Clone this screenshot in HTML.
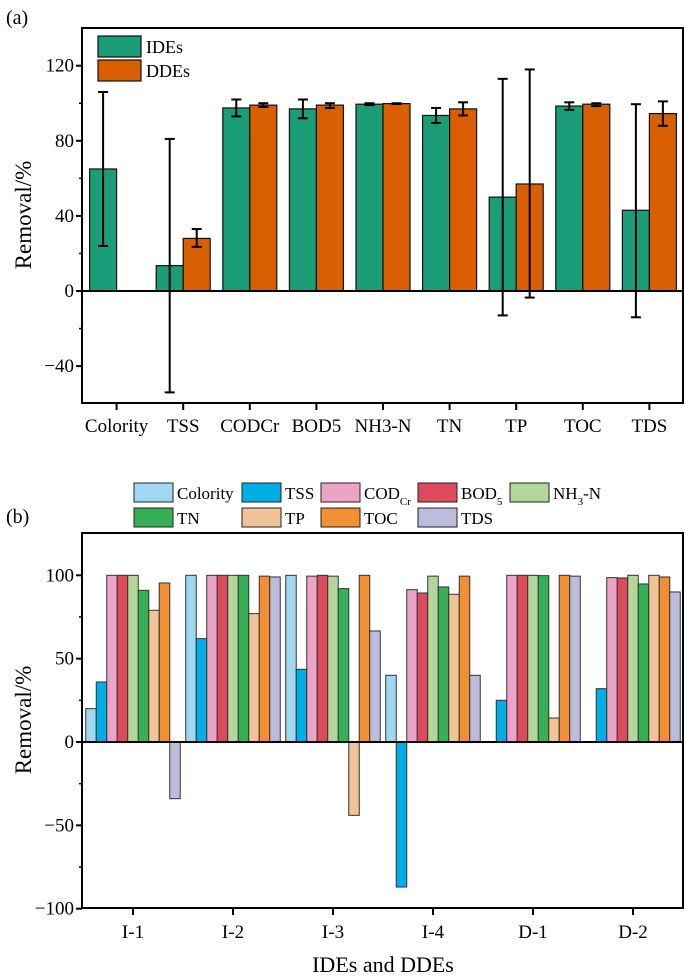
<!DOCTYPE html>
<html><head><meta charset="utf-8"><style>
body{margin:0;background:#fff;width:685px;height:976px;overflow:hidden}
svg{font-family:"Liberation Serif",serif;display:block}
</style></head><body>
<svg id="s" width="685" height="976" viewBox="0 0 685 976">
<text x="6" y="24" font-size="20">(a)</text>
<text x="6" y="523" font-size="20">(b)</text>
<g id="ga"></g>
<g id="gb"></g>
</svg>
<script>
const catsA=["Colority","TSS","CODCr","BOD5","NH3-N","TN","TP","TOC","TDS"];
const ideVals=[65,13.5,97.5,97,99.5,93.5,50,98.5,43];
const ideLo=[24,-54,93,92,99,89.5,-13,96.5,-14];
const ideHi=[106,81,102,102,100,97.5,113,100.5,99.5];
const ddeVals=[null,28,99,99,99.8,97,57,99.5,94.5];
const ddeLo=[null,23.5,98,97.5,99.6,93.5,-3.5,98.5,88];
const ddeHi=[null,33,100,100,100,100.5,118,100,101];
const ticksA=[-40,0,40,80,120];

const groupsB=["I-1","I-2","I-3","I-4","D-1","D-2"];
const seriesB=["Colority","TSS","COD<tspan baseline-shift='sub' font-size='11'>Cr</tspan>","BOD<tspan baseline-shift='sub' font-size='11'>5</tspan>","NH<tspan baseline-shift='sub' font-size='11'>3</tspan>-N","TN","TP","TOC","TDS"];
const colority=[20,100,100,40,0,0];
const tss=[36,62,43.6,-87,25,32];
const codcr=[100,100,99.5,91.4,100,98.6];
const bod5=[100,100,100,89.4,100,98.4];
const nh3n=[100,100,99.5,99.5,100,100];
const tn=[91,100,92,93,99.8,94.8];
const tp=[79,77,-44,88.6,14.4,100];
const toc=[95.4,99.5,100,99.5,100,99];
const tds=[-34,99,66.6,40,99.5,90];
const ticksB=[-100,-50,0,50,100];

const NS="http://www.w3.org/2000/svg";
function mk(p,t,a,txt){const e=document.createElementNS(NS,t);for(const k in a)e.setAttribute(k,a[k]);if(txt!==undefined)e.innerHTML=txt;p.appendChild(e);return e;}

// Chart A
const ga=document.getElementById('ga');
const aL=82,aR=683,aT=28,aB=403;
const yA=v=>291-(v/120)*(291-65.7);
const xA=i=>116.6+i*66.6;
const bw=27;
function errbar(x,lo,hi){
  const g=mk(ga,'g',{});
  
  
  mk(g,'line',{x1:x,x2:x,y1:yA(lo),y2:yA(hi),stroke:'#000','stroke-width':2});
  mk(g,'line',{x1:x-5,x2:x+5,y1:yA(lo),y2:yA(lo),stroke:'#000','stroke-width':2});
  mk(g,'line',{x1:x-5,x2:x+5,y1:yA(hi),y2:yA(hi),stroke:'#000','stroke-width':2});
}
catsA.forEach((c,i)=>{
  const cx=xA(i);
  const v=ideVals[i];
  const r=mk(ga,'rect',{x:cx-bw,y:Math.min(yA(v),yA(0)),width:bw,height:Math.abs(yA(v)-yA(0)),fill:'#1b9e77',stroke:'#111','stroke-width':1.2});
  
  
  if(ddeVals[i]!==null){
    const d=ddeVals[i];
    const r2=mk(ga,'rect',{x:cx,y:Math.min(yA(d),yA(0)),width:bw,height:Math.abs(yA(d)-yA(0)),fill:'#d95f02',stroke:'#111','stroke-width':1.2});
    
    
  }
});
catsA.forEach((c,i)=>{
  const cx=xA(i);
  errbar(cx-bw/2,ideLo[i],ideHi[i]);
  if(ddeVals[i]!==null) errbar(cx+bw/2,ddeLo[i],ddeHi[i]);
  const t=mk(ga,'text',{x:cx,y:432,'font-size':19,'text-anchor':'middle'},c);
  
  
  mk(ga,'line',{x1:cx,x2:cx,y1:aB,y2:aB+7,stroke:'#000','stroke-width':2});
});
mk(ga,'line',{x1:aL,x2:aR,y1:yA(0),y2:yA(0),stroke:'#000','stroke-width':2});
const fa=mk(ga,'rect',{x:aL,y:aT,width:aR-aL,height:aB-aT,fill:'none',stroke:'#000','stroke-width':2});

ticksA.forEach(v=>{
  mk(ga,'line',{x1:aL-6,x2:aL,y1:yA(v),y2:yA(v),stroke:'#000','stroke-width':2});
  const t=mk(ga,'text',{x:aL-8,y:yA(v)+6,'font-size':19,'text-anchor':'end'},v<0?'\u2212'+(-v):v);
  
  
});
[-20,20,60,100].forEach(v=>mk(ga,'line',{x1:aL-3,x2:aL,y1:yA(v),y2:yA(v),stroke:'#000','stroke-width':1.5}));
const ta=mk(ga,'text',{x:0,y:0,'font-size':23,'text-anchor':'middle',transform:'translate(31,215) rotate(-90)'},'Removal/%');

[['IDEs','#1b9e77',36],['DDEs','#d95f02',60]].forEach(([n,c,y])=>{
  const g=mk(ga,'g',{});
  
  
  mk(g,'rect',{x:98,y:y,width:43,height:21,fill:c,stroke:'#111','stroke-width':1.2});
  mk(g,'text',{x:146,y:y+17,'font-size':18},n);
});

// Chart B
const gb=document.getElementById('gb');
const bL=82,bR=683,bT=533,bB=908;
const yB=v=>742-v*1.667;
const xB=i=>133+i*100;
const w=10.5;
const colors=['#9fd8f0','#00aee6','#eba3c6','#dc4a5c','#b3d69b','#35b056','#f0c497','#f08f33','#bcbcdc'];
const dataB=[colority,tss,codcr,bod5,nh3n,tn,tp,toc,tds];
groupsB.forEach((gname,gi)=>{
  dataB.forEach((arr,si)=>{
    const v=arr[gi];
    if(v===0) return;
    const x=xB(gi)+(si-4)*w-w/2;
    const r=mk(gb,'rect',{x:x,y:Math.min(yB(v),yB(0)),width:w,height:Math.abs(yB(v)-yB(0)),fill:colors[si],stroke:'#333','stroke-width':1});
    
    
  });
  mk(gb,'line',{x1:xB(gi),x2:xB(gi),y1:bB,y2:bB+7,stroke:'#000','stroke-width':2});
  const t=mk(gb,'text',{x:xB(gi),y:938,'font-size':19,'text-anchor':'middle'},gname);
  
  
});
mk(gb,'line',{x1:bL,x2:bR,y1:yB(0),y2:yB(0),stroke:'#000','stroke-width':2});
const fb=mk(gb,'rect',{x:bL,y:bT,width:bR-bL,height:bB-bT,fill:'none',stroke:'#000','stroke-width':2});

ticksB.forEach(v=>{
  mk(gb,'line',{x1:bL-6,x2:bL,y1:yB(v),y2:yB(v),stroke:'#000','stroke-width':2});
  const t=mk(gb,'text',{x:bL-8,y:yB(v)+6,'font-size':19,'text-anchor':'end'},v<0?'\u2212'+(-v):v);
  
  
});
[-75,-25,25,75].forEach(v=>mk(gb,'line',{x1:bL-3,x2:bL,y1:yB(v),y2:yB(v),stroke:'#000','stroke-width':1.5}));
const tb=mk(gb,'text',{x:0,y:0,'font-size':23,'text-anchor':'middle',transform:'translate(31,720) rotate(-90)'},'Removal/%');

const xt=mk(gb,'text',{x:383,y:972,'font-size':22,'text-anchor':'middle'},'IDEs and DDEs');

const legX=[134,242,321,418,510];
seriesB.forEach((n,si)=>{
  const row=si<5?0:1, col=si<5?si:si-5;
  const x=legX[col], y=row?508:483;
  const g=mk(gb,'g',{});
  
  
  mk(g,'rect',{x:x,y:y,width:39,height:19,fill:colors[si],stroke:'#222','stroke-width':1});
  mk(g,'text',{x:x+43,y:y+16,'font-size':17},n);
});
</script>
</body></html>
